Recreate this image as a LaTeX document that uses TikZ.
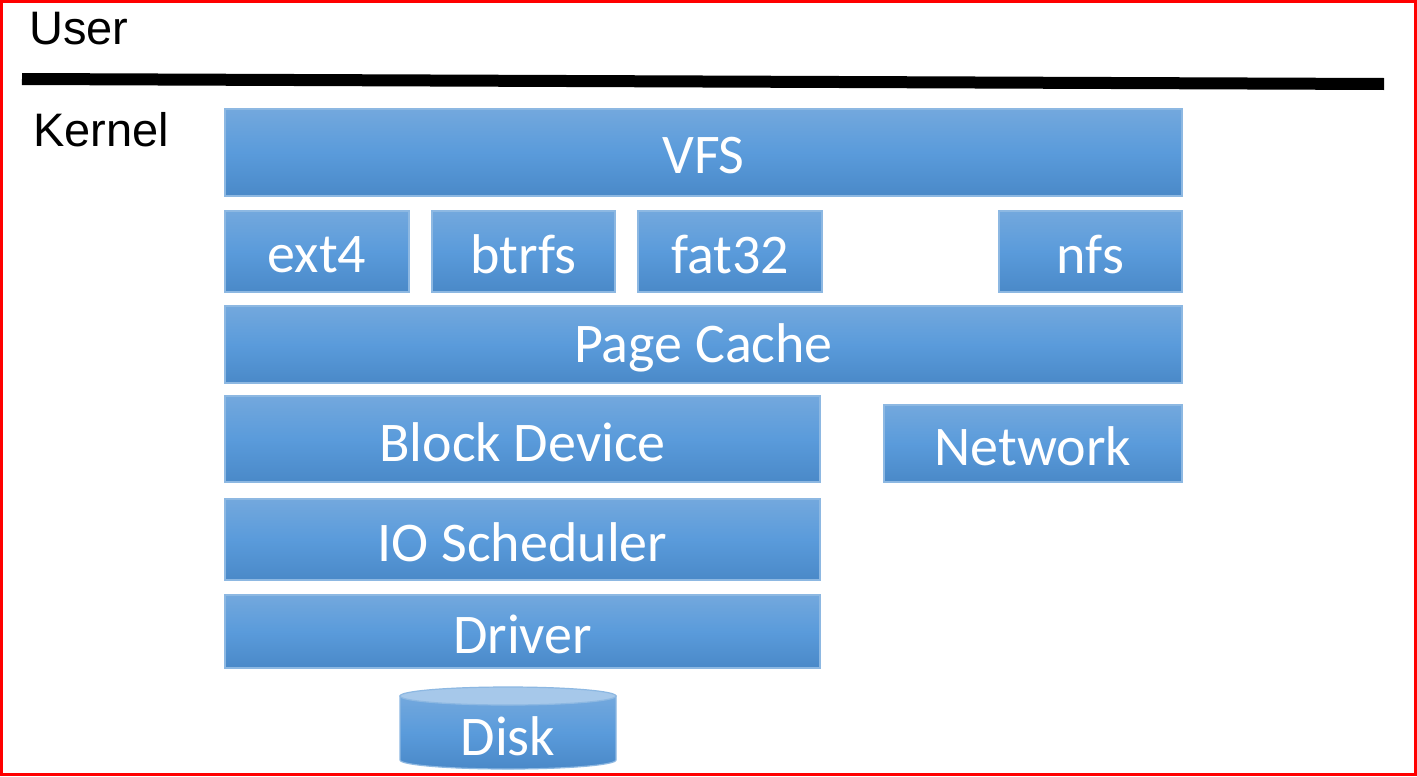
\documentclass[tikz,border=0pt]{standalone}
\usepackage{fontspec}
\setmainfont{Liberation Sans}
\newfontfamily\boxfont{Carlito}
\definecolor{btop}{HTML}{73A8DD}
\definecolor{bmid}{HTML}{5A9BDB}
\definecolor{bbot}{HTML}{4A89C8}
\definecolor{bedge}{HTML}{8DB8E2}
\definecolor{disktop}{HTML}{A6C8EA}
\tikzset{
  blk/.style={draw=bedge, line width=0.6pt, top color=btop, bottom color=bbot, middle color=bmid,
    inner sep=0pt, rectangle},
  btxt/.style={text=white, font=\boxfont\fontsize{28}{32}\selectfont, inner sep=0pt, yshift=-1.5pt},
  lbl/.style={font=\fontsize{23.5}{27}\selectfont, anchor=base west, inner sep=0pt}
}
\newcommand\bx[6]{\node[blk, minimum width={(#4-#2)*0.5pt}, minimum height={(#5-#3)*0.5pt},
  label={[btxt]center:#6}] (#1) at ({(#2+#4)/2},{(#3+#5)/2}) {};}
\begin{document}
\begin{tikzpicture}[x=0.5pt,y=-0.5pt]
\useasboundingbox (0,0) rectangle (1417,776);
\fill[white] (0,0) rectangle (1417,776);
\node[lbl] (user) at (29,44) {User};
\node[lbl] (kernel) at (33,146) {Kernel};
\coordinate (sepL) at (22,79);
\coordinate (sepR) at (1384,84);
\draw[line width=6pt] (sepL) -- (sepR);
\bx{vfs}{225}{109}{1182}{196}{VFS}
\bx{ext}{225}{211}{409}{292}{ext4}
\bx{btrfs}{432}{211}{615}{292}{btrfs}
\bx{fat}{638}{211}{822}{292}{fat32}
\bx{nfs}{999}{211}{1182}{292}{nfs}
\bx{pc}{225}{306}{1182}{383}{Page Cache}
\bx{bd}{225}{396}{820}{482}{Block Device}
\bx{net}{884}{405}{1182}{482}{Network}
\bx{ios}{225}{499}{820}{580}{IO Scheduler}
\bx{drv}{225}{595}{820}{668}{Driver}
% disk
\path[draw=bedge, line width=0.6pt, top color=btop, bottom color=bbot, middle color=bmid]
  (400,696) -- (400,760) arc[start angle=180, end angle=360, x radius=54pt, y radius=4.5pt] -- (616,696) -- cycle;
\path[draw=bedge, line width=0.6pt, fill=disktop] (508,696) ellipse [x radius=54pt, y radius=4.5pt];
\node[btxt] (disk) at (508,733) {Disk};
\draw[red, line width=1.5pt] (1.5,1.5) rectangle (1415.5,774.5);
\end{tikzpicture}
\end{document}
